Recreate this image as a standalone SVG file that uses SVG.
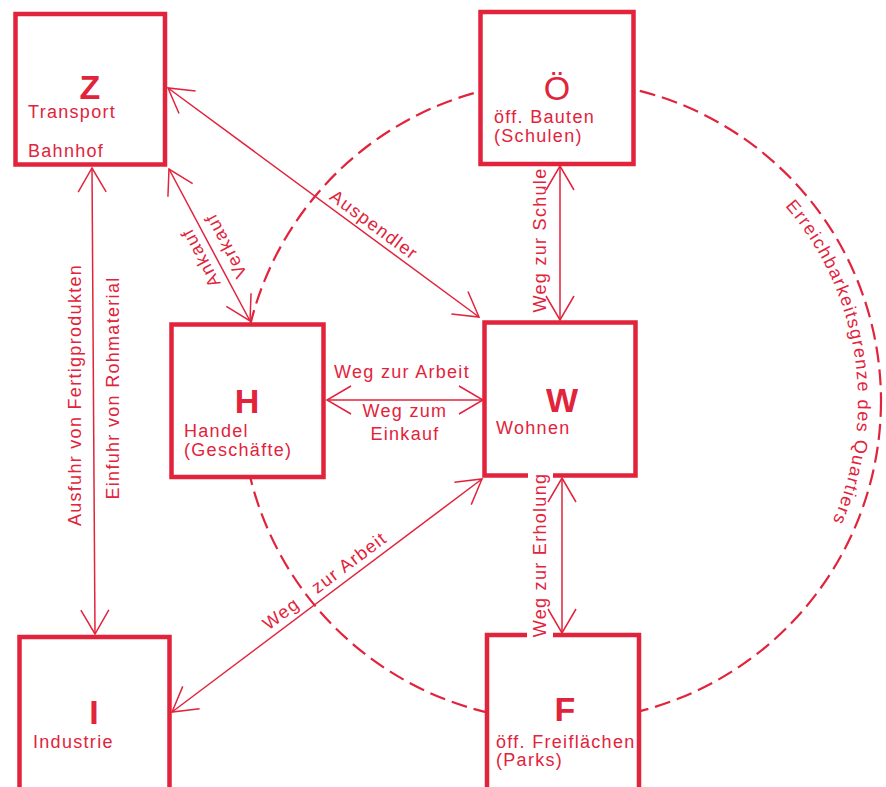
<svg xmlns="http://www.w3.org/2000/svg" width="886" height="787" viewBox="0 0 886 787">
<style>
.box{fill:#fff;stroke:#e2233c;stroke-width:4.5;stroke-linejoin:miter}
.t{font-family:"Liberation Sans",Arial,sans-serif;font-size:18px;fill:#e2233c;letter-spacing:1.3px}
.big{font-family:"Liberation Sans",Arial,sans-serif;font-size:34px;font-weight:bold;fill:#e2233c;text-anchor:middle}
.con{stroke:#e2233c;stroke-width:1.5;fill:none;marker-start:url(#ah);marker-end:url(#ah)}
.dash{fill:none;stroke:#e2233c;stroke-width:2.2;stroke-dasharray:16 7}
.mid{text-anchor:middle}
</style>
<defs>
<marker id="ah" viewBox="-30 -16 32 32" refX="0" refY="0" markerWidth="32" markerHeight="32" markerUnits="userSpaceOnUse" orient="auto-start-reverse" overflow="visible">
<path d="M-24,-14 L0,0 L-24,14" fill="none" stroke="#e2233c" stroke-width="1.5"/>
</marker>
<path id="arcText" d="M785.1,206.1 A297,297 0 0 1 830.2,526.5"/>
</defs>
<rect width="886" height="787" fill="#fff"/>

<g id="boundary">
<circle class="dash" cx="561" cy="401" r="320"/>
<text class="t" style="font-size:18px;letter-spacing:0"><textPath href="#arcText" textLength="336" lengthAdjust="spacing">Erreichbarkeitsgrenze des Quartiers</textPath></text>
</g>

<g id="node-Z">
<rect class="box" x="15.5" y="14" width="149.5" height="150.5"/>
<text class="big" x="90" y="99">Z</text>
<text class="t" x="28" y="118">Transport</text>
<text class="t" x="28" y="157">Bahnhof</text>
</g>

<g id="node-O">
<rect class="box" x="480.5" y="12" width="153" height="152"/>
<text class="big" x="557" y="100" style="font-weight:normal">Ö</text>
<text class="t" x="494" y="123">öff. Bauten</text>
<text class="t" x="494" y="142">(Schulen)</text>
</g>

<g id="node-H">
<rect class="box" x="171.5" y="324.5" width="152" height="152.5"/>
<text class="big" x="247" y="413">H</text>
<text class="t" x="184" y="437">Handel</text>
<text class="t" x="184" y="456">(Geschäfte)</text>
</g>

<g id="node-W">
<path class="box" d="M528,475.5 H484.5 V322.5 H635.5 V475.5 H553"/>
<text class="big" x="562" y="412">W</text>
<text class="t" x="496" y="434">Wohnen</text>
</g>

<g id="node-I">
<rect class="box" x="19.5" y="637" width="150" height="170"/>
<text class="big" x="94" y="724">I</text>
<text class="t" x="33" y="748">Industrie</text>
</g>

<g id="node-F">
<path class="box" d="M527,635 H487 V810 H639 V635 H553"/>
<text class="big" x="565" y="721">F</text>
<text class="t" x="496" y="748">öff. Freiflächen</text>
<text class="t" x="496" y="766">(Parks)</text>
</g>

<g id="connectors">
<line class="con" x1="92" y1="168" x2="95" y2="634"/>
<line class="con" x1="168" y1="88" x2="479" y2="317"/>
<line class="con" x1="169" y1="169" x2="250" y2="321"/>
<line class="con" x1="560" y1="166" x2="560" y2="320"/>
<line class="con" x1="327" y1="400" x2="483" y2="400"/>
<line class="con" x1="562" y1="478" x2="562" y2="633"/>
<line class="con" x1="482" y1="479" x2="172" y2="712"/>

<text class="t mid" transform="translate(81,395) rotate(-90)">Ausfuhr von Fertigprodukten</text>
<text class="t mid" transform="translate(119,388) rotate(-90)">Einfuhr von Rohmaterial</text>
<text class="t" transform="translate(328.6,198.8) rotate(36.4)">Auspendler</text>
<text class="t mid" transform="translate(206,255) rotate(-118)">Ankauf</text>
<text class="t mid" transform="translate(231,243) rotate(-118)">Verkauf</text>
<text class="t mid" transform="translate(546,240) rotate(-90)">Weg zur Schule</text>
<text class="t mid" transform="translate(546,555) rotate(-90)">Weg zur Erholung</text>
<text class="t mid" x="402" y="378">Weg zur Arbeit</text>
<text class="t mid" x="405" y="417">Weg zum</text>
<text class="t mid" x="405" y="440">Einkauf</text>
<text class="t" transform="translate(268.5,630.7) rotate(-36.9)"><tspan>Weg</tspan><tspan dx="14"> zur Arbeit</tspan></text>
</g>
</svg>
